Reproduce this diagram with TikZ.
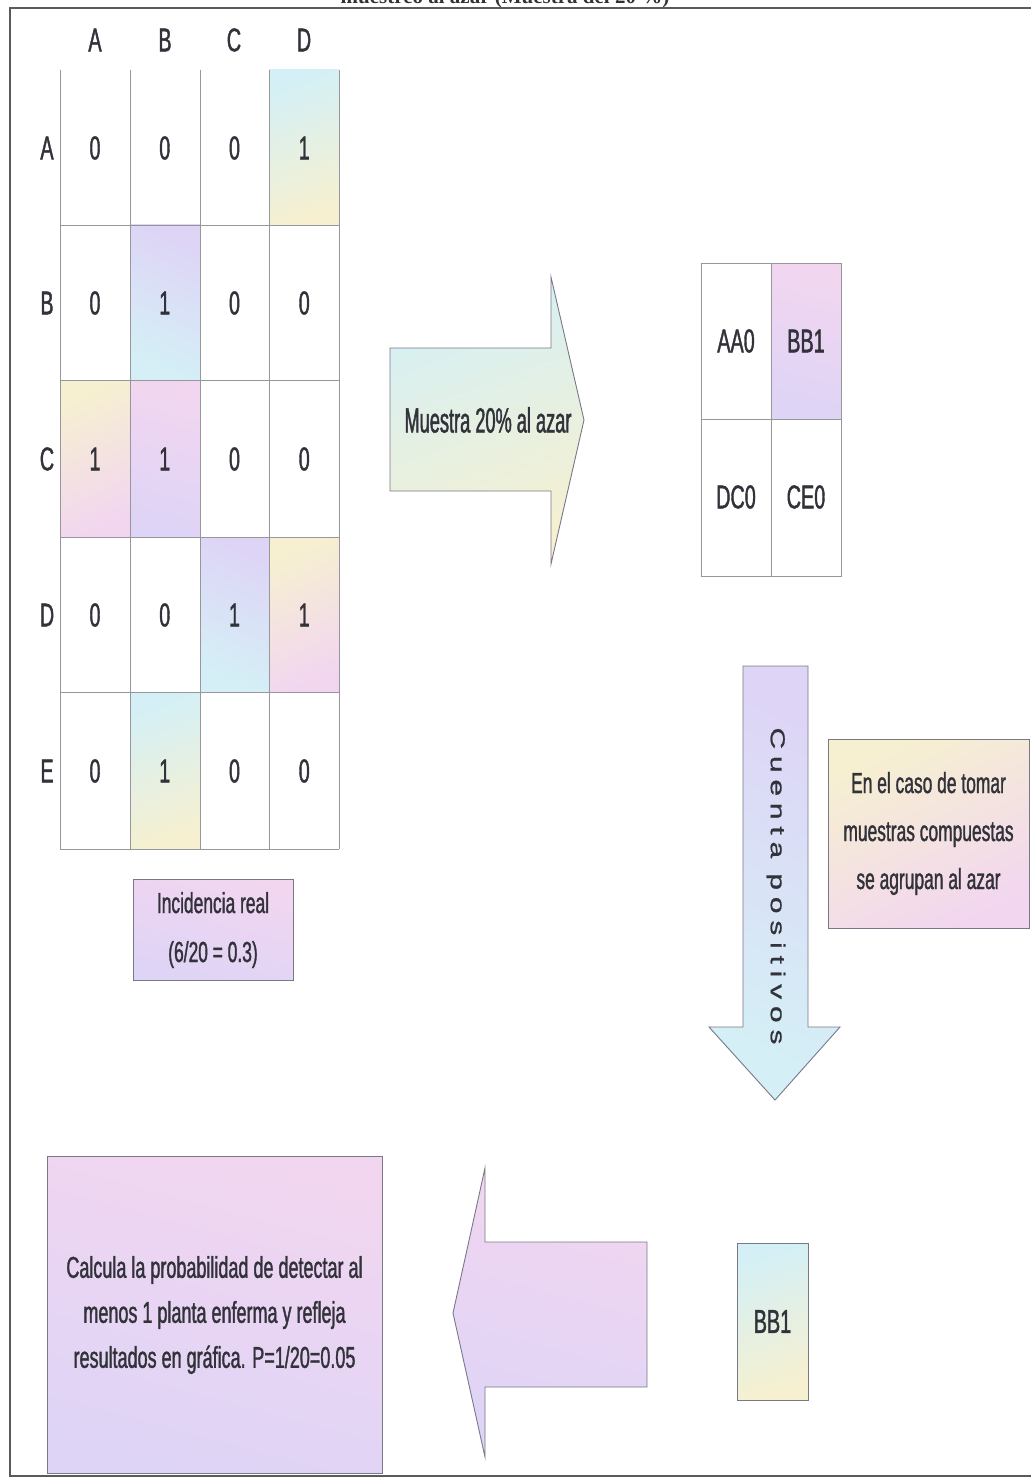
\documentclass[tikz,border=0pt]{standalone}
\usepackage{fontspec}
\newfontfamily\nf[FakeStretch=0.6,FakeBold=1.2]{Liberation Sans}
\newfontfamily\nfn[FakeStretch=0.52,FakeBold=1.2]{Liberation Sans}
\newfontfamily\wf[FakeStretch=1.5,LetterSpace=34,FakeBold=1.0]{Liberation Sans}
\newfontfamily\tf{Liberation Serif}
\definecolor{pk}{RGB}{242,214,240}
\definecolor{cy}{RGB}{212,240,246}
\definecolor{yl}{RGB}{246,240,208}
\definecolor{gn}{RGB}{214,242,222}
\definecolor{lv}{RGB}{222,212,246}
\definecolor{pc}{RGB}{246,224,214}
\definecolor{txt}{RGB}{50,50,58}
\definecolor{ln}{RGB}{120,120,135}
\definecolor{gl}{RGB}{150,150,155}
\definecolor{fr}{RGB}{90,90,90}
\tikzset{
  pastA/.style={top color=cy, middle color=pk, bottom color=yl, shading angle=20},
  pastB/.style={top color=pk, middle color=gn, bottom color=lv, shading angle=-15},
  pastC/.style={top color=yl, middle color=cy, bottom color=pk, shading angle=25},
  pastD/.style={top color=lv, middle color=yl, bottom color=cy, shading angle=-25},
  cell/.style={inner sep=0pt, text=txt, font=\nf\fontsize{33}{33}\selectfont},
  hdr/.style={inner sep=0pt, text=txt, font=\nf\fontsize{33}{33}\selectfont},
  boxed/.style={draw=ln, line width=0.9pt, inner sep=0pt, text=txt, align=center},
  arr/.style={draw=ln, line width=0.9pt},
  gridln/.style={draw=gl, line width=0.8pt}
}
\begin{document}
\begin{tikzpicture}[x=1pt,y=-1pt]
\useasboundingbox (0,0) rectangle (1030,1479);
\fill[white] (0,0) rectangle (1030,1479);
% clipped title
\begin{scope}
\clip (0,0) rectangle (1030,1479);
\node[anchor=base, inner sep=0pt, text=black!80, font=\tf\bfseries\fontsize{21}{21}\selectfont] (title) at (505,4) {muestreo al azar (Muestra del 20 \%)};
\end{scope}
% frame
\draw[fr, line width=1.5pt] (1032,8) -- (10,8) -- (10,1476) -- (1032,1476);

% shaded cells of the big grid
\shade[pastA] (269,70) rectangle (339,225);
\shade[pastD] (130,225) rectangle (200,380);
\shade[pastC] (60,380) rectangle (130,537);
\shade[pastB] (130,380) rectangle (200,537);
\shade[pastD] (200,537) rectangle (269,692);
\shade[pastC] (269,537) rectangle (339,692);
\shade[pastA] (130,692) rectangle (200,849);
% grid lines
\foreach \x in {60,130,200,269,339} \draw[gridln] (\x,70) -- (\x,849);
\foreach \y in {225,380,537,692,849} \draw[gridln] (60,\y) -- (339,\y);
% headers
\node[hdr] (hA) at (95,40) {A};
\node[hdr] (hB) at (165,40) {B};
\node[hdr] (hC) at (234,40) {C};
\node[hdr] (hD) at (304,40) {D};
\node[hdr] (rA) at (47,148) {A};
\node[hdr] (rB) at (47,303) {B};
\node[hdr] (rC) at (47,459) {C};
\node[hdr] (rD) at (47,615) {D};
\node[hdr] (rE) at (47,771) {E};
% cell values
\foreach \r/\yy/\vals in {A/148/{0,0,0,1}, B/303/{0,1,0,0}, C/459/{1,1,0,0}, D/615/{0,0,1,1}, E/771/{0,1,0,0}}{
  \foreach \v [count=\i from 0] in \vals {
    \node[cell] (c\r\i) at ({95+69.75*\i},\yy) {\v};
  }
}
% incidencia
\node[boxed, pastB, minimum width=160pt, minimum height=101pt, font=\nf\fontsize{29}{49}\selectfont] (inc) at (213,930) {Incidencia real\\(6/20 = 0.3)};

% right arrow
\path[arr, pastA] (390,348) -- (551,348) -- (551,277) -- (584,420) -- (551,564) -- (551,491) -- (390,491) -- cycle;
\node[inner sep=0pt, text=txt, font=\nfn\fontsize{35}{35}\selectfont] (muestra) at (488,420) {Muestra 20\% al azar};

% sample grid
\shade[pastB] (771,263) rectangle (841,419);
\draw[gridln] (701,263) rectangle (841,576);
\draw[gridln] (771,263) -- (771,576);
\draw[gridln] (701,419) -- (841,419);
\node[cell] (sAA) at (736,341) {AA0};
\node[cell] (sBB) at (806,341) {BB1};
\node[cell] (sDC) at (736,497) {DC0};
\node[cell] (sCE) at (806,497) {CE0};

% down arrow
\path[arr, pastD] (743,666) -- (808,666) -- (808,1027) -- (840,1027) -- (775,1100) -- (709,1027) -- (743,1027) -- cycle;
\node[inner sep=0pt, text=txt, rotate=-90, font=\wf\fontsize{20}{20}\selectfont] (cuenta) at (776,886) {Cuenta positivos};

% compuestas box
\node[boxed, pastC, minimum width=201pt, minimum height=189pt, font=\nf\fontsize{29}{48}\selectfont] (comp) at (928.5,833.5) {En el caso de tomar\\muestras compuestas\\se agrupan al azar};

% left arrow
\path[arr, pastB] (647,1242) -- (485,1242) -- (485,1168) -- (453,1313) -- (485,1457) -- (485,1387) -- (647,1387) -- cycle;

% BB1 box
\node[boxed, pastA, minimum width=71pt, minimum height=157pt, font=\nf\fontsize{33}{33}\selectfont] (bb) at (772.5,1321.5) {BB1};

% calcula box
\node[boxed, pastB, minimum width=335pt, minimum height=317pt, font=\nf\fontsize{30}{45}\selectfont] (calc) at (214.5,1315) {Calcula la probabilidad de detectar al\\menos 1 planta enferma y refleja\\resultados en gráfica. P=1/20=0.05};
\end{tikzpicture}
\end{document}
